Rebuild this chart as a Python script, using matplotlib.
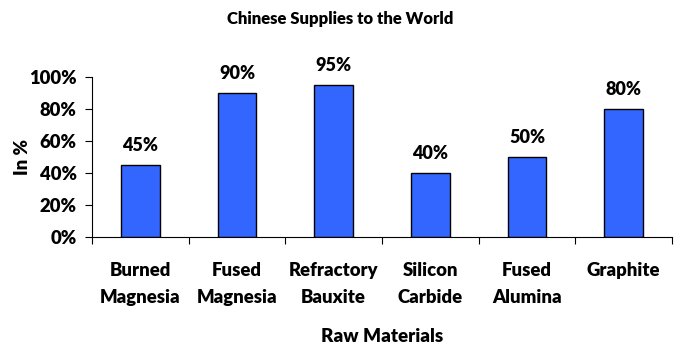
import matplotlib

matplotlib.use("Agg")

import matplotlib.pyplot as plt
from matplotlib.ticker import FixedLocator, PercentFormatter

CATEGORIES = [
    "Burned\nMagnesia",
    "Fused\nMagnesia",
    "Refractory\nBauxite",
    "Silicon\nCarbide",
    "Fused\nAlumina",
    "Graphite",
]
SHARES = [45, 90, 95, 40, 50, 80]

BAR_COLOR = "#3366FF"
FONT = "Lato"
FS = 13.3
WEIGHT = "heavy"

plt.rcParams["font.family"] = [FONT, "DejaVu Sans"]
plt.rcParams["font.weight"] = WEIGHT

fig = plt.figure(figsize=(6.8, 3.5), dpi=100)
ax = fig.add_axes([92 / 680, 1 - 237 / 350, (672 - 92) / 680, 160 / 350])

x = range(len(CATEGORIES))
bars = ax.bar(x, SHARES, width=0.4, color=BAR_COLOR, edgecolor="black",
              linewidth=1.0, zorder=2)
for rect, v in zip(bars, SHARES):
    ax.text(rect.get_x() + rect.get_width() / 2, v + 7, f"{v}%",
            ha="center", va="bottom", fontsize=13, fontweight=WEIGHT)

ax.set_xlim(-0.5, len(CATEGORIES) - 0.5)
ax.set_ylim(0, 100)
ax.set_yticks(range(0, 101, 20))
ax.yaxis.set_major_formatter(PercentFormatter(decimals=0))

# category labels between boundary ticks, like Excel
ax.set_xticks(list(x))
ax.set_xticklabels(CATEGORIES, fontsize=FS, fontweight=WEIGHT,
                   linespacing=1.7)
ax.tick_params(axis="x", which="major", length=0, pad=18)
ax.xaxis.set_minor_locator(FixedLocator([i - 0.5 for i in range(len(CATEGORIES) + 1)]))
ax.tick_params(axis="x", which="minor", length=5, width=0.8, direction="out")
ax.tick_params(axis="y", length=5, width=0.8, labelsize=FS, pad=6)
for lbl in ax.get_yticklabels():
    lbl.set_fontweight(WEIGHT)

for side in ("top", "right"):
    ax.spines[side].set_visible(False)
ax.spines["left"].set_linewidth(0.8)
ax.spines["bottom"].set_linewidth(0.8)

ax.set_ylabel("In %", fontsize=FS, fontweight=WEIGHT, labelpad=-1.5)
ax.set_xlabel("Raw Materials", fontsize=13.5, fontweight=WEIGHT, labelpad=16)
fig.suptitle("Chinese Supplies to the World", y=0.968, fontsize=12,
             fontweight=WEIGHT)

fig.savefig("out.png", dpi=100, facecolor="white")
